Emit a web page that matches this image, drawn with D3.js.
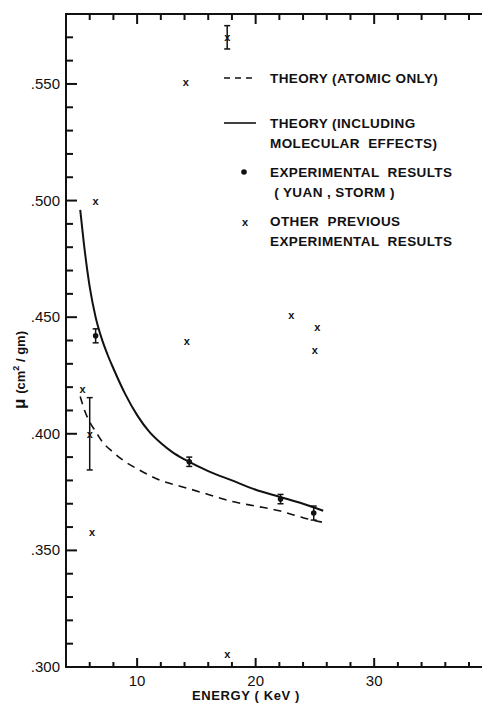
<!DOCTYPE html>
<html>
<head>
<meta charset="utf-8">
<script src="https://cdn.jsdelivr.net/npm/d3@7"></script>
<style>
  body { margin: 0; background: #fff; }
  svg text { font-family: "Liberation Sans", Arial, sans-serif; fill: #111; }
</style>
</head>
<body>
<div class="canvas"></div>
<script>
// theory curves (energy in keV, mu in cm2/gm)
const theoryEnergy = [5.2, 5.5, 6, 6.5, 7, 7.5, 8, 9, 10, 11, 12, 13, 14, 16, 18, 20, 22, 24, 25.7];
const theoryMolecular = [.496, .482, .463, .450, .441, .434, .428, .417, .408, .401, .396, .392, .389, .384, .380, .376, .373, .370, .367];
const atomicEnergy = [5.2, 5.5, 6, 6.5, 7, 8, 9, 10, 12, 14, 16, 18, 20, 22, 24, 25.7];
const theoryAtomic = [.416, .411, .405, .401, .397, .392, .388, .385, .380, .377, .374, .371, .369, .367, .364, .362];

// experimental results (Yuan, Storm)
const expEnergy = [6.5, 14.4, 22.1, 24.9];
const expMu = [.442, .388, .372, .366];
const expErr = [.003, .002, .002, .003];

// other previous experimental results
const otherEnergy = [17.6, 14.1, 6.5, 14.2, 5.4, 6.0, 6.2, 17.6, 23.0, 25.2, 25.0];
const otherMu = [.570, .551, .500, .440, .419, .400, .358, .3055, .451, .446, .436];
const otherErr = [.005, 0, 0, 0, 0, .0155, 0, 0, 0, 0, 0];

const xTicksMajor = [10, 20, 30];
const yTicksMajor = [.300, .350, .400, .450, .500, .550];

const legendLines = [
  {kind: 'dash', text: ['THEORY (ATOMIC ONLY)']},
  {kind: 'solid', text: ['THEORY (INCLUDING', 'MOLECULAR  EFFECTS)']},
  {kind: 'dot', text: ['EXPERIMENTAL  RESULTS', ' ( YUAN , STORM )']},
  {kind: 'x', text: ['OTHER  PREVIOUS', 'EXPERIMENTAL  RESULTS']}
];

const W = 482, H = 703;
const svg = d3.select('.canvas').append('svg')
    .attr('width', W).attr('height', H);

const x = d3.scaleLinear().domain([4, 38]).range([66, 469]);
const y = d3.scaleLinear().domain([.300, .580]).range([667, 14]);
const xEnd = x.invert(W + 2);

// frame
const frame = svg.append('g').attr('stroke', '#111').attr('stroke-width', 2).attr('fill', 'none');
frame.append('line').attr('x1', x(4)).attr('x2', x(4)).attr('y1', y(.580) - 1).attr('y2', y(.300) + 1);
frame.append('line').attr('x1', x(4)).attr('x2', x(xEnd)).attr('y1', y(.580)).attr('y2', y(.580));
frame.append('line').attr('x1', x(4)).attr('x2', x(xEnd)).attr('y1', y(.300)).attr('y2', y(.300));

// x ticks (inside, top and bottom)
const xt = d3.range(6, 39, 2);
frame.selectAll('.xb').data(xt).enter().append('line')
    .attr('x1', d => x(d)).attr('x2', d => x(d))
    .attr('y1', y(.300)).attr('y2', d => y(.300) - (xTicksMajor.includes(d) ? 9 : 5));
frame.selectAll('.xt').data(xt).enter().append('line')
    .attr('x1', d => x(d)).attr('x2', d => x(d))
    .attr('y1', y(.580)).attr('y2', d => y(.580) + (xTicksMajor.includes(d) ? 10 : 6));

// y ticks
const yt = d3.range(31, 58).map(d => d / 100);
frame.selectAll('.yt').data(yt).enter().append('line')
    .attr('x1', x(4)).attr('x2', d => x(4) + (yTicksMajor.some(v => Math.abs(v - d) < 1e-6) ? 11 : 7))
    .attr('y1', d => y(d)).attr('y2', d => y(d));

svg.selectAll('.xl').data(xTicksMajor).enter().append('text')
    .attr('x', d => x(d)).attr('y', y(.300) + 19)
    .attr('text-anchor', 'middle').attr('font-size', 15)
    .text(d => d);
svg.selectAll('.yl').data(yTicksMajor).enter().append('text')
    .attr('x', x(4) - 6).attr('y', d => y(d) + 5)
    .attr('text-anchor', 'end').attr('font-size', 15)
    .text(d => d3.format('.3f')(d).replace(/^0/, ''));

svg.append('text').attr('x', 246).attr('y', 700)
    .attr('text-anchor', 'middle').attr('font-size', 13).attr('font-weight', 'bold')
    .attr('letter-spacing', 0.6)
    .text('ENERGY ( KeV )');

const yl = svg.append('text')
    .attr('transform', `translate(25, 370) rotate(-90)`)
    .attr('text-anchor', 'middle').attr('font-size', 13).attr('font-weight', 'bold');
yl.append('tspan').attr('font-size', 17).text('μ ');
yl.append('tspan').text('(cm');
yl.append('tspan').attr('font-size', 9).attr('dy', -6).text('2');
yl.append('tspan').attr('dy', 6).text(' / gm)');

// curves
const line = d3.line().curve(d3.curveMonotoneX);
svg.append('path')
    .attr('d', line(theoryEnergy.map((e, i) => [x(e), y(theoryMolecular[i])])))
    .attr('fill', 'none').attr('stroke', '#111').attr('stroke-width', 2);
svg.append('path')
    .attr('d', line(atomicEnergy.map((e, i) => [x(e), y(theoryAtomic[i])])))
    .attr('fill', 'none').attr('stroke', '#111').attr('stroke-width', 1.6)
    .attr('stroke-dasharray', '8,6');

// error bars
function errBars(es, ms, errs) {
  const g = svg.append('g').attr('stroke', '#111').attr('stroke-width', 1.5);
  es.forEach((e, i) => {
    if (!errs[i]) return;
    const cx = x(e);
    g.append('line').attr('x1', cx).attr('x2', cx).attr('y1', y(ms[i] + errs[i])).attr('y2', y(ms[i] - errs[i]));
    [errs[i], -errs[i]].forEach(d => g.append('line')
        .attr('x1', cx - 3).attr('x2', cx + 3).attr('y1', y(ms[i] + d)).attr('y2', y(ms[i] + d)));
  });
}
errBars(expEnergy, expMu, expErr);
errBars(otherEnergy, otherMu, otherErr);

svg.selectAll('.dot').data(expEnergy).enter().append('circle')
    .attr('cx', d => x(d)).attr('cy', (d, i) => y(expMu[i])).attr('r', 2.8).attr('fill', '#111');

svg.selectAll('.xm').data(otherEnergy).enter().append('text')
    .attr('x', d => x(d)).attr('y', (d, i) => y(otherMu[i]) + 4)
    .attr('text-anchor', 'middle').attr('font-size', 11).attr('font-weight', 'bold')
    .text('x');

// legend
const legY = [83, 128, 177, 226];
const lg = svg.append('g');
legendLines.forEach((l, i) => {
  const ly = legY[i];
  if (l.kind === 'dash' || l.kind === 'solid') {
    lg.append('line').attr('x1', 224).attr('x2', 256).attr('y1', ly - 5).attr('y2', ly - 5)
      .attr('stroke', '#111').attr('stroke-width', 1.6)
      .attr('stroke-dasharray', l.kind === 'dash' ? '6,5' : null);
  } else if (l.kind === 'dot') {
    lg.append('circle').attr('cx', 244).attr('cy', ly - 5).attr('r', 2.8).attr('fill', '#111');
  } else {
    lg.append('text').attr('x', 245).attr('y', ly).attr('text-anchor', 'middle')
      .attr('font-size', 11).attr('font-weight', 'bold').text('x');
  }
  l.text.forEach((t, j) => lg.append('text')
      .attr('x', 270).attr('y', ly + j * 20)
      .attr('font-size', 13.5).attr('font-weight', 'bold').attr('letter-spacing', 0.4)
      .attr('xml:space', 'preserve').style('white-space', 'pre')
      .text(t));
});
</script>
</body>
</html>
